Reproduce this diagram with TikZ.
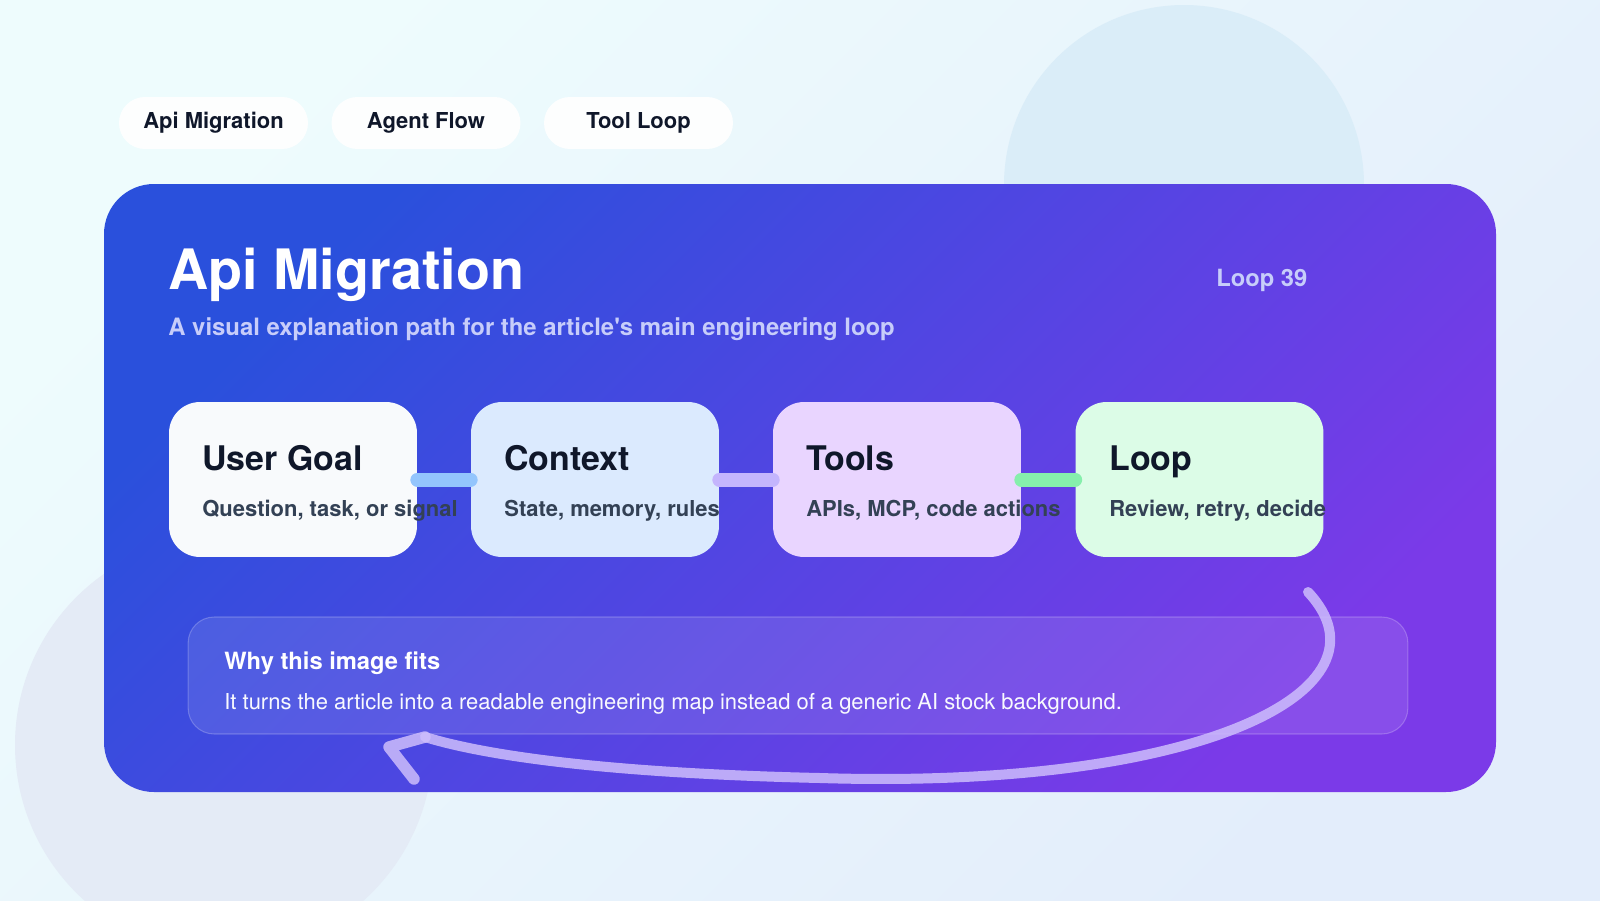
\documentclass[tikz,border=0pt]{standalone}
\usepackage{fontspec}
\setmainfont{TeX Gyre Heros}
\definecolor{bgA}{HTML}{EEFCFD}
\definecolor{bgB}{HTML}{E3EDFB}
\definecolor{blobA}{HTML}{DAEDF8}
\definecolor{blobB}{HTML}{E4EBF6}
\definecolor{cardA}{HTML}{2A50DC}
\definecolor{cardB}{HTML}{7B3AE8}
\definecolor{ink}{HTML}{0F172A}
\definecolor{subink}{HTML}{334155}
\definecolor{soft}{HTML}{C7CDFA}
\definecolor{goalfill}{HTML}{F8FAFC}
\definecolor{ctxfill}{HTML}{DBEAFE}
\definecolor{toolfill}{HTML}{E9D5FF}
\definecolor{loopfill}{HTML}{DCFCE7}
\definecolor{linkA}{HTML}{93C5FD}
\definecolor{linkB}{HTML}{C4B5FD}
\definecolor{linkC}{HTML}{86EFAC}
\definecolor{loopline}{HTML}{CDBDFC}
\begin{document}
\begin{tikzpicture}[x=0.02cm,y=-0.02cm,
  pill/.style={fill=white,fill opacity=.9,text opacity=1,rounded corners=0.52cm,
    minimum width=3.78cm,minimum height=1.04cm,inner sep=0pt,text=ink,
    font=\fontsize{12.5}{15}\selectfont\bfseries},
  stage/.style={rounded corners=0.62cm,minimum width=4.96cm,minimum height=3.1cm,inner sep=0pt},
  stagetitle/.style={anchor=base west,inner sep=0pt,text=ink,font=\fontsize{19.3}{23}\selectfont\bfseries},
  stagesub/.style={anchor=base west,inner sep=0pt,text=subink,font=\fontsize{12.5}{15}\selectfont\bfseries},
  link/.style={line width=0.28cm,line cap=round},
  note/.style={rounded corners=0.52cm,minimum width=24.4cm,minimum height=2.34cm,inner sep=0pt,
    fill=white,fill opacity=.1,draw=white,draw opacity=.22,line width=0.6pt},
  arc/.style={draw=loopline,draw opacity=.85,line width=0.2cm,line cap=round,line join=round}]
\useasboundingbox (0,0) rectangle (1600,900);
% backdrop
\shade[top color=bgA,bottom color=bgB,shading angle=45] (0,0) rectangle (1600,900);
\fill[blobA] (1184,185) circle[radius=180];
\fill[blobB] (224,745) circle[radius=209];
% tabs
\node[pill] (tab1) at (213.5,123) {Api Migration};
\node[pill] (tab2) at (426,123) {Agent Flow};
\node[pill] (tab3) at (638.5,123) {Tool Loop};
% card
\shade[rounded corners=1cm,top color=cardA,bottom color=cardB,shading angle=45] (104,184) rectangle (1496,792);
\node[anchor=base west,inner sep=0pt,text=white,font=\fontsize{31.7}{38}\selectfont\bfseries] (title) at (168,289) {Api Migration};
\node[anchor=base west,inner sep=0pt,text=soft,font=\fontsize{13.6}{16}\selectfont\bfseries] (subtitle) at (168,335) {A visual explanation path for the article\textquotesingle s main engineering loop};
\node[anchor=base west,inner sep=0pt,text=soft,font=\fontsize{13.5}{16}\selectfont\bfseries] (count) at (1216,286) {Loop 39};
% stages
\node[stage,fill=goalfill] (goal) at (293,479.5) {};
\node[stage,fill=ctxfill] (ctx) at (595,479.5) {};
\node[stage,fill=toolfill] (tools) at (897,479.5) {};
\node[stage,fill=loopfill] (loop) at (1199.5,479.5) {};
\draw[link,linkA] (goal.east) -- (ctx.west);
\draw[link,linkB] (ctx.east) -- (tools.west);
\draw[link,linkC] (tools.east) -- (loop.west);
\node[stagetitle] (goalt) at (202,470) {User Goal};
\node[stagesub] (goals) at (202,516) {Question, task, or signal};
\node[stagetitle] (ctxt) at (504,470) {Context};
\node[stagesub] (ctxs) at (504,516) {State, memory, rules};
\node[stagetitle] (toolst) at (806,470) {Tools};
\node[stagesub] (toolss) at (806,516) {APIs, MCP, code actions};
\node[stagetitle] (loopt) at (1109,470) {Loop};
\node[stagesub] (loops) at (1109,516) {Review, retry, decide};
% why box
\node[note] (why) at (798,675.5) {};
\node[anchor=base west,inner sep=0pt,text=white,font=\fontsize{13.5}{16}\selectfont\bfseries] (whyt) at (224,669) {Why this image fits};
\node[anchor=base west,inner sep=0pt,text=white!88!soft,font=\fontsize{12.5}{15}\selectfont] (whyb) at (224,709) {It turns the article into a readable engineering map instead of a generic AI stock background.};
% return arrow
\coordinate (cs) at (1308,592);
\coordinate (ce) at (425,737);
\coordinate (ct) at (389,747);
\coordinate (cl) at (414,779);
\draw[arc] (cs) .. controls (1400,690) and (1200,790) .. (820,778) .. controls (640,774) and (500,760) .. (ce);
\draw[arc,line width=0.23cm] (ce) -- (ct) -- (cl);
\end{tikzpicture}
\end{document}
